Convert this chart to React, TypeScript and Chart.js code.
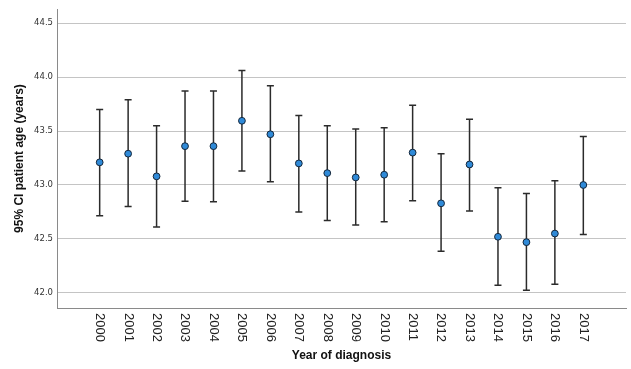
import React, { useEffect, useRef } from "react";
import { Chart, registerables } from "chart.js";

Chart.register(...registerables);

const years = ["2000","2001","2002","2003","2004","2005","2006","2007","2008","2009","2010","2011","2012","2013","2014","2015","2016","2017"];
const means = [43.21, 43.29, 43.08, 43.36, 43.36, 43.595, 43.47, 43.20, 43.11, 43.07, 43.095, 43.30, 42.83, 43.19, 42.52, 42.47, 42.55, 43.00];
const lows = [42.715, 42.80, 42.61, 42.85, 42.845, 43.13, 43.03, 42.75, 42.67, 42.63, 42.66, 42.855, 42.385, 42.76, 42.07, 42.025, 42.08, 42.54];
const highs = [43.70, 43.79, 43.55, 43.87, 43.87, 44.06, 43.92, 43.645, 43.55, 43.52, 43.53, 43.74, 43.29, 43.61, 42.975, 42.92, 43.04, 43.45];
const yTicks = [42.0, 42.5, 43.0, 43.5, 44.0, 44.5];
const yMin = 41.86;
const yMax = 44.63;

const slotLabels = ["", ...years, ""];

const errorBarPlugin = {
  id: "errorBars",
  beforeDatasetsDraw(chart: any) {
    const { ctx, scales } = chart;
    const xs = scales.x;
    const ys = scales.y;
    ctx.save();
    ctx.strokeStyle = "#2b2b2b";
    ctx.lineWidth = 1.5;
    for (let i = 0; i < years.length; i++) {
      const x = xs.getPixelForValue(i + 1);
      const yl = ys.getPixelForValue(lows[i]);
      const yh = ys.getPixelForValue(highs[i]);
      ctx.beginPath();
      ctx.moveTo(x, yl);
      ctx.lineTo(x, yh);
      ctx.moveTo(x - 3.5, yl);
      ctx.lineTo(x + 3.5, yl);
      ctx.moveTo(x - 3.5, yh);
      ctx.lineTo(x + 3.5, yh);
      ctx.stroke();
    }
    ctx.restore();
  },
  afterDraw(chart: any) {
    const { ctx, scales } = chart;
    const xs = scales.x;
    ctx.save();
    ctx.fillStyle = "#222";
    ctx.font = "13px 'Liberation Sans', Arial, sans-serif";
    ctx.textAlign = "left";
    ctx.textBaseline = "middle";
    for (let i = 0; i < slotLabels.length; i++) {
      const label = slotLabels[i];
      if (!label) continue;
      const x = xs.getPixelForValue(i);
      ctx.save();
      ctx.translate(x, xs.top + 5);
      ctx.rotate(Math.PI / 2);
      ctx.fillText(label, 0, 0);
      ctx.restore();
    }
    ctx.restore();
  },
};

export default function App() {
  const ref = useRef<HTMLCanvasElement | null>(null);
  useEffect(() => {
    document.body.style.margin = "0";
    const canvas = ref.current!;
    const chart = new Chart(canvas, {
      type: "line",
      data: {
        labels: slotLabels,
        datasets: [
          {
            data: [null, ...means, null],
            showLine: false,
            pointRadius: 3.4,
            pointBackgroundColor: "#2f8ad8",
            pointBorderColor: "#14263a",
            pointBorderWidth: 1,
          },
        ],
      },
      options: {
        animation: false,
        responsive: false,
        maintainAspectRatio: false,
        layout: { padding: { top: 8, right: 5, left: 0, bottom: 0 } },
        plugins: { legend: { display: false }, tooltip: { enabled: false } },
        scales: {
          x: {
            type: "category",
            offset: true,
            grid: { display: false, drawTicks: false },
            border: { display: true, color: "#8a8a8a", width: 1 },
            ticks: { display: false },
            title: {
              display: true,
              text: "Year of diagnosis",
              color: "#111",
              font: { family: "'Liberation Sans', Arial, sans-serif", size: 12, weight: "bold" },
              padding: { top: 0, bottom: 5.8 },
            },
            afterFit(scale: any) {
              scale.height = 61;
            },
          },
          y: {
            min: yMin,
            max: yMax,
            grid: { color: "#c4c4c4", drawTicks: false, lineWidth: 1 },
            border: { display: true, color: "#8a8a8a", width: 1 },
            afterBuildTicks(scale: any) {
              scale.ticks = yTicks.map((v) => ({ value: v }));
            },
            ticks: {
              padding: 4,
              color: "#333",
              font: { family: "'DejaVu Sans', sans-serif", size: 8.5 },
              callback: (v: any) => Number(v).toFixed(1),
            },
            title: {
              display: true,
              text: "95% CI patient age (years)",
              color: "#111",
              font: { family: "'Liberation Sans', Arial, sans-serif", size: 12, weight: "bold" },
              padding: { top: 12.8, bottom: 0 },
            },
            afterFit(scale: any) {
              scale.width = 57;
            },
          },
        },
      },
      plugins: [errorBarPlugin],
    });
    return () => chart.destroy();
  }, []);
  return <canvas ref={ref} width={631} height={369} style={{ display: "block" }} />;
}
